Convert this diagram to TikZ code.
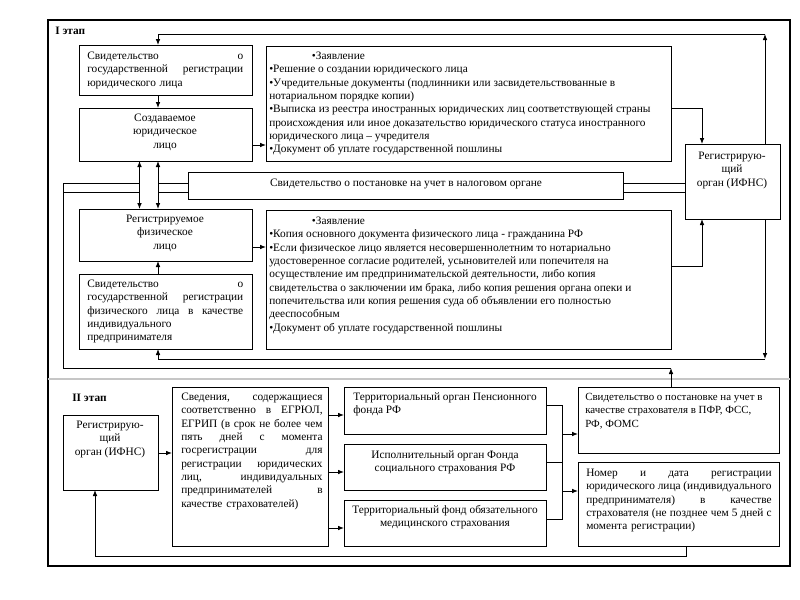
\documentclass[tikz,border=0pt]{standalone}
\usepackage{fontspec}
\setmainfont{Liberation Serif}
\usetikzlibrary{arrows.meta}
\setlength{\parindent}{0pt}
\newcommand{\bxnode}[5]{\node[bx, minimum width={(#4-#2)*0.75pt}, minimum height={(#5-#3)*0.75pt}] (#1) at ({(#2+#4)/2},{(#3+#5)/2}) {};}
\begin{document}
\begin{tikzpicture}[x=0.75pt,y=-0.75pt,
  bx/.style={draw,line width=0.7pt,inner sep=0pt,outer sep=0pt},
  tx/.style={inner sep=0pt,font=\fontsize{8.5}{10}\selectfont,align=left},
  txc/.style={inner sep=0pt,font=\fontsize{8.5}{10}\selectfont,align=center},
  lbl/.style={inner sep=0pt,font=\bfseries\fontsize{8.5}{10}\selectfont},
  ln/.style={line width=0.7pt},
  arr/.style={line width=0.7pt,-{Latex[length=4.5pt,width=3.5pt]}},
  arrb/.style={line width=0.7pt,{Latex[length=4.5pt,width=3.5pt]}-{Latex[length=4.5pt,width=3.5pt]}}]
\useasboundingbox (0,0) rectangle (800,600);
\draw[line width=0.8pt] (48,20) rectangle (790,566);
\draw[gray!45,line width=1.2pt] (48,379) -- (790,379);
\node[lbl,anchor=base west] (st1) at (55,34) {I этап};
\node[lbl,anchor=base west] (st2) at (72,401) {II этап};
% boxes
\bxnode{A}{79}{45}{252}{95}
\bxnode{B}{79}{108}{252}{161}
\bxnode{C}{266}{46}{671}{161}
\bxnode{R}{685}{144}{780}{219}
\bxnode{T}{188}{172}{623}{199}
\bxnode{D}{79}{209}{252}{261}
\bxnode{E}{266}{210}{671}{349}
\bxnode{F}{79}{274}{252}{349}
\bxnode{Q}{63}{415}{158}{490}
\bxnode{S}{172}{387}{328}{546}
\bxnode{P1}{344}{387}{546}{434}
\bxnode{P2}{344}{444}{546}{490}
\bxnode{P3}{344}{500}{546}{546}
\bxnode{U1}{578}{387}{779}{453}
\bxnode{U2}{578}{462}{779}{546}
% texts
\node[tx,anchor=north west,text width=117pt] (At) at (87,50) {\strut Свидетельство\hfill о\\государственной\hfill регистрации\\юридического лица};
\node[txc,anchor=north] (Bt) at (165,112) {\strut Создаваемое\\юридическое\\лицо};
\node[tx,anchor=north west] (Ct) at (269,50) {\strut\hspace*{32pt}•Заявление\\•Решение о создании юридического лица\\•Учредительные документы (подлинники или засвидетельствованные в\\нотариальном порядке копии)\\•Выписка из реестра иностранных юридических лиц соответствующей страны\\происхождения или иное доказательство юридического статуса иностранного\\юридического лица – учредителя\\•Документ об уплате государственной пошлины};
\node[txc,anchor=north] (Rt) at (732,150) {\strut Регистрирую-\\щий\\орган (ИФНС)};
\node[txc,anchor=base] (Tt) at (406,186) {Свидетельство о постановке на учет в налоговом органе};
\node[txc,anchor=north] (Dt) at (165,213) {\strut Регистрируемое\\физическое\\лицо};
\node[tx,anchor=north west] (Et) at (269,215) {\strut\hspace*{32pt}•Заявление\\•Копия основного документа физического лица - гражданина РФ\\•Если физическое лицо является несовершеннолетним то нотариально\\удостоверенное согласие родителей, усыновителей или попечителя на\\осуществление им предпринимательской деятельности, либо копия\\свидетельства о заключении им брака, либо копия решения органа опеки и\\попечительства или копия решения суда об объявлении его полностью\\дееспособным\\•Документ об уплате государственной пошлины};
\node[tx,anchor=north west,text width=117pt] (Ft) at (87,278) {\strut Свидетельство\hfill о\\государственной\hfill регистрации\\физического\hfill лица\hfill в\hfill качестве\\индивидуального\\предпринимателя};
\node[txc,anchor=north] (Qt) at (110,419) {\strut Регистрирую-\\щий\\орган (ИФНС)};
\node[tx,anchor=north west,text width=106pt] (St) at (181,391) {\strut Сведения,\hfill содержащиеся\\соответственно\hfill в\hfill ЕГРЮЛ,\\ЕГРИП\hfill (в\hfill срок\hfill не\hfill более\hfill чем\\пять\hfill дней\hfill с\hfill момента\\госрегистрации\hfill для\\регистрации\hfill юридических\\лиц,\hfill индивидуальных\\предпринимателей\hfill в\\качестве страхователей)};
\node[tx,anchor=north west] (P1t) at (353,391) {\strut Территориальный орган Пенсионного\\фонда РФ};
\node[txc,anchor=north] (P2t) at (445,449) {\strut Исполнительный орган Фонда\\социального страхования РФ};
\node[txc,anchor=north] (P3t) at (445,504) {\strut Территориальный фонд обязательного\\медицинского страхования};
\node[tx,anchor=north west,font=\fontsize{8.2}{10}\selectfont] (U1t) at (585,391) {\strut Свидетельство о постановке на учет в\\качестве страхователя в ПФР, ФСС,\\РФ, ФОМС};
\node[tx,anchor=north west,text width=139pt] (U2t) at (586,467) {\strut Номер\hfill и\hfill дата\hfill регистрации\\юридического\hfill лица\hfill (индивидуального\\предпринимателя)\hfill в\hfill качестве\\страхователя\hfill (не\hfill позднее\hfill чем\hfill 5\hfill дней\hfill с\\момента регистрации)};
% helper coordinates
\coordinate (tr) at (765,34);
\coordinate (tl) at (158,34);
\coordinate (br) at (765,359);
\coordinate (bl) at (158,359);
\coordinate (k1) at (702,108);
\coordinate (k2) at (702,266);
\coordinate (v1) at (139.5,183);
\coordinate (v2) at (158,183);
\coordinate (w1) at (139.5,192);
\coordinate (w2) at (158,192);
\coordinate (lo) at (63,183);
\coordinate (lo2) at (63,192);
\coordinate (lb) at (63,368);
\coordinate (lr) at (671,368);
\coordinate (h1) at (0,145);
\coordinate (h2) at (0,247);
\coordinate (m1) at (562,405);
\coordinate (m2) at (562,462);
\coordinate (m3) at (562,519);
\coordinate (n1) at (562,434);
\coordinate (n2) at (562,491);
\coordinate (s1) at (0,415);
\coordinate (s2) at (0,472);
\coordinate (s3) at (0,528);
\coordinate (q1) at (0,453);
\coordinate (fb1) at (686,556);
\coordinate (fb2) at (95,556);
% stage I connectors
\draw[arr] (R.north -| tr) -- (tr);
\draw[arr] (tr) -- (tl) -- (A.north -| tl);
\draw[arr] (A.south -| tl) -- (B.north -| tl);
\draw[arr] (B.east |- h1) -- (C.west |- h1);
\draw[arr] (C.east |- k1) -- (k1) -- (R.north -| k1);
\draw[arr] (E.east |- k2) -- (k2) -- (R.south -| k2);
\draw[arr] (R.south -| br) -- (br);
\draw[arr] (br) -- (bl) -- (F.south -| bl);
\draw[arr] (F.north -| bl) -- (D.south -| bl);
\draw[arr] (D.east |- h2) -- (E.west |- h2);
\draw[ln] (T.east |- v1) -- (R.west |- v1);
\draw[ln] (T.east |- w1) -- (R.west |- w1);
\draw[ln] (T.west |- v2) -- (v2);
\draw[ln] (T.west |- w2) -- (w2);
\draw[arrb] (B.south -| v1) -- (D.north -| v1);
\draw[arrb] (B.south -| v2) -- (D.north -| v2);
\draw[ln] (v1) -- (lo) -- (lb) -- (lr);
\draw[ln] (w1) -- (lo2);
\draw[arr] (U1.north -| lr) -- (lr);
% stage II connectors
\draw[arr] (Q.east |- q1) -- (S.west |- q1);
\draw[arr] (S.east |- s1) -- (P1.west |- s1);
\draw[arr] (S.east |- s2) -- (P2.west |- s2);
\draw[arr] (S.east |- s3) -- (P3.west |- s3);
\draw[ln] (P1.east |- m1) -- (m1) -- (m3) -- (P3.east |- m3);
\draw[ln] (P2.east |- m2) -- (m2);
\draw[arr] (n1) -- (U1.west |- n1);
\draw[arr] (n2) -- (U2.west |- n2);
\draw[arr] (U2.south -| fb1) -- (fb1) -- (fb2) -- (Q.south -| fb2);
\end{tikzpicture}
\end{document}
